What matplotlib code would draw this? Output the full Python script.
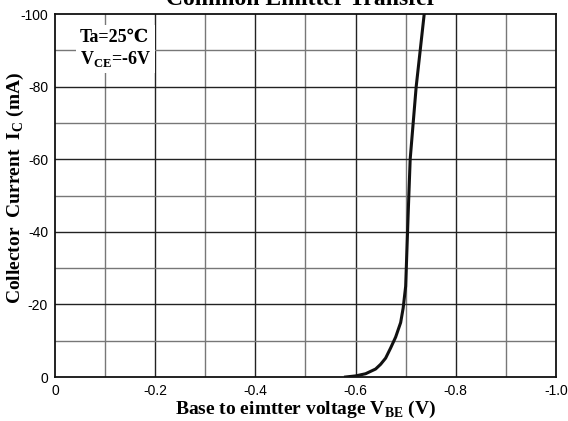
import numpy as np
import matplotlib
matplotlib.use("Agg")
import matplotlib.pyplot as plt

# V_BE (V, negative) and I_C (mA, negative)
vbe = [-0.58, -0.60, -0.62, -0.64, -0.65, -0.66, -0.67, -0.68, -0.69,
       -0.695, -0.700, -0.705, -0.709, -0.715, -0.721, -0.729, -0.737]
ic = [0, -0.3, -0.9, -2.2, -3.5, -5.2, -8, -11, -15,
      -19, -25, -45, -60, -70, -80, -90, -100]

xticks = [0, -0.2, -0.4, -0.6, -0.8, -1.0]
xticklabels = ["0", "-0.2", "-0.4", "-0.6", "-0.8", "-1.0"]
yticks = [0, -20, -40, -60, -80, -100]
yticklabels = ["0", "-20", "-40", "-60", "-80", "-100"]

plt.rcParams['mathtext.fontset'] = 'custom'
plt.rcParams['mathtext.rm'] = 'Liberation Serif'
plt.rcParams['mathtext.bf'] = 'Liberation Serif:bold'

serif = ['Liberation Serif', 'DejaVu Serif']

fig = plt.figure(figsize=(5.68, 4.21), dpi=100)
ax = fig.add_axes([0.0968, 0.1045, 0.882, 0.862])

ax.set_xlim(0, -1.0)
ax.set_ylim(0, -100)

# grid: 0.1 V and 10 mA steps
for v in np.arange(1, 10) * -0.1:
    c = '#222222' if round(v * 10) % 2 == 0 else '#777777'
    ax.axvline(v, color=c, lw=1.0, zorder=1)
for i in np.arange(1, 10) * -10:
    c = '#222222' if round(i / 10) % 2 == 0 else '#777777'
    ax.axhline(i, color=c, lw=1.0, zorder=1)

ax.plot(vbe, ic, color='#111111', lw=2.2, zorder=3)

ax.set_xticks(xticks)
ax.set_xticklabels(xticklabels, fontsize=10, family='Liberation Sans')
ax.set_yticks(yticks)
ax.set_yticklabels(yticklabels, fontsize=10, family='Liberation Sans')
ax.tick_params(length=0, pad=5)

for s in ax.spines.values():
    s.set_linewidth(1.3)
    s.set_color('#111111')

ax.set_xlabel(r'Base to eimtter voltage $\mathbf{V}_{\mathbf{BE}}$ (V)',
              fontsize=14, fontweight='bold', family=serif, labelpad=1)
ax.set_ylabel(r'Collector  Current  $\mathbf{I}_{\mathbf{C}}$ (mA)',
              fontsize=14, fontweight='bold', family=serif)
ax.yaxis.set_label_coords(-0.058, 0.52)

ax.text(-0.05, -96, 'Ta=25\u2103\n' + r'$\mathbf{V}_{\mathbf{CE}}$=-6V',
        fontsize=13, fontweight='bold', family=serif, va='top', ha='left',
        linespacing=1.2, zorder=4,
        bbox=dict(facecolor='white', edgecolor='none', pad=3))

fig.text(0.53, 1 - 5 / 421, 'Common Emitter Transfer', fontsize=17,
         fontweight='bold', family=serif, ha='center', va='baseline')

fig.savefig('out.png', dpi=100)
